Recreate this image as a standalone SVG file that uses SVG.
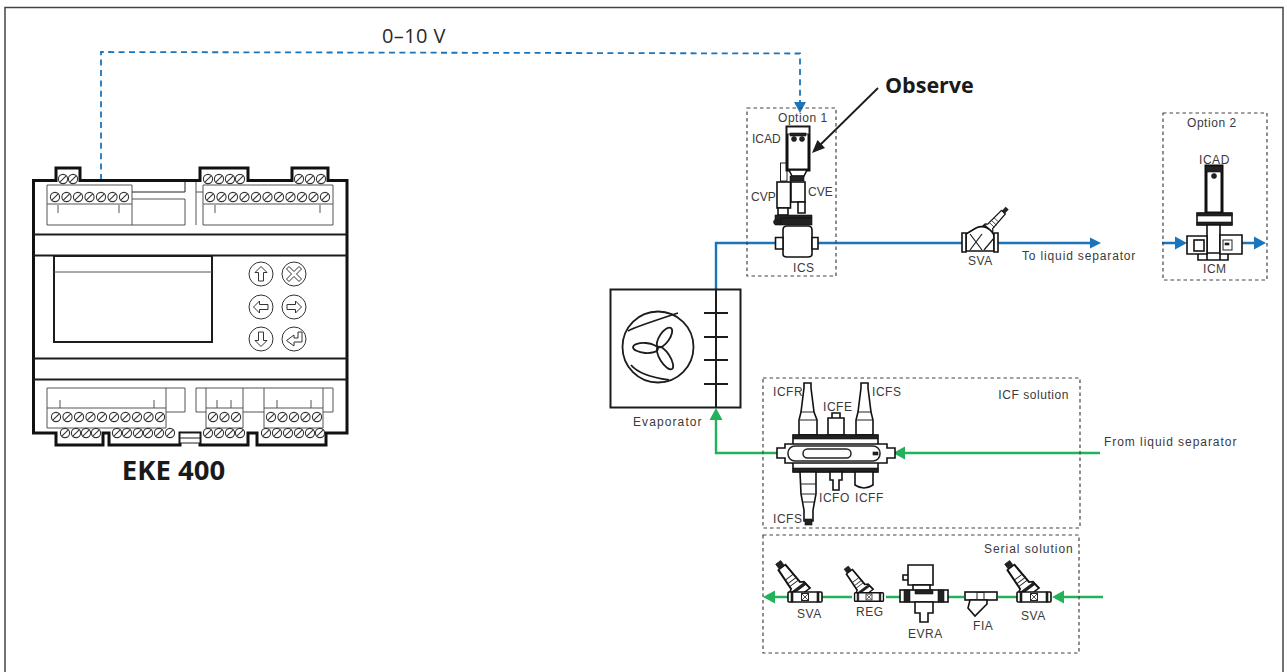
<svg xmlns="http://www.w3.org/2000/svg" width="1287" height="672" viewBox="0 0 1287 672">
<style>
text{font-family:"Liberation Sans",Arial,sans-serif;font-size:12px;fill:#3a3a3a;letter-spacing:.55px}
.big{font-family:"Open Sans","Noto Sans",sans-serif;font-weight:700;fill:#1a1a1a;letter-spacing:0}
.v{font-family:"Open Sans","Noto Sans",sans-serif;font-size:20px;fill:#2a2a2a;letter-spacing:.4px}
.k2{fill:none;stroke:#1c1c1c;stroke-width:1.5}
.g{fill:none;stroke:#555;stroke-width:1}
.w{fill:#fff;stroke:#222;stroke-width:1}
.wk{fill:#fff;stroke:#111;stroke-width:1.6}
.wk3{fill:#fff;stroke:#111;stroke-width:3}
.dk{fill:#222;stroke:#111;stroke-width:.6}
.box{fill:none;stroke:#444;stroke-width:1.2;stroke-dasharray:3.5 3}
.blue{fill:none;stroke:#1b75bc;stroke-width:2.4}
.green{fill:none;stroke:#22b25a;stroke-width:2.4}
.dash{fill:none;stroke:#1b75bc;stroke-width:1.8;stroke-dasharray:6 4.4}
</style>
<defs>
<g id="scr"><circle r="4.600" fill="#fff" stroke="#333" stroke-width="1.100"/><line x1="-3.200" y1="3.200" x2="3.200" y2="-3.200" stroke="#333" stroke-width="1.100"/></g>
<g id="btn"><circle r="12" fill="#fff" stroke="#333" stroke-width="1"/></g>
<path id="arr" d="M0-7.500 6-1.500H2.500V7H-2.500V-1.500H-6Z" fill="#fff" stroke="#333" stroke-width="1"/>
<g id="stem">
<path class="wk" d="M-8 0-7-10-4.500-12-3.500-38H3.500L4.500-12 7-10 8 0Z"/>
<path class="dk" d="M-7.500-9H7.500V-6H-7.500Z"/>
<path class="g" style="stroke:#222" d="M-5-15H5M-5-19H5M-4-24H4"/>
<rect class="dk" x="-2.500" y="-45" width="5" height="7"/>
</g>
<g id="sva">
<use href="#stem" transform="translate(-3 -3) rotate(-37) scale(1.250 .88)"/>
<rect class="wk" x="-17" y="-5" width="34" height="10" rx="1"/>
<path class="dk" d="M-14-5h2v10h-2zM12-5h2v10h-2z"/>
<rect class="w" x="-3.500" y="-3.500" width="7" height="7"/><path class="g" d="M-3-3 3 3M-3 3 3-3"/>
</g>
</defs>

<rect id="frame" x="5" y="7.500" width="1278" height="680" fill="#fff" stroke="#444" stroke-width="1.500"/>

<g id="connectors">
<path class="dash" d="M101 180V52L800 53.500V104"/>
<path d="M794 102H806L800 113Z" fill="#1b75bc"/>
<path class="blue" d="M716 289V243H776M818 243H962M998 243H1092"/>
<path d="M1090 237.500V248.500L1101 243Z" fill="#1b75bc"/>
<path class="blue" d="M1162 243H1178M1241 243H1257"/>
<path d="M1175 236.500V249.500L1187 243ZM1254 236.500V249.500L1266 243Z" fill="#1b75bc"/>
<path class="green" d="M1100 453H902M777 453H716V418"/>
<path d="M709.500 420H722.500L716 408ZM905 446.500V459.500L893 453Z" fill="#22b25a"/>
<path class="green" d="M1103 597H1060M1018 597H998M964 597H948M900 597H886M852 597H822M788 597H772"/>
<path d="M1064 590.500V603.500L1052 597ZM775 590.500V603.500L763 597Z" fill="#22b25a"/>
<path d="M878 88 817 148" fill="none" stroke="#1c1c1c" stroke-width="1.800"/>
<path d="M812 153 817.500 140 825 148Z" fill="#1c1c1c"/>
</g>

<g id="eke400">
<path class="wk3" d="M33.500 180.500H56V168H80V180.500H200V168H248V180.500H292V168H328V180.500H347V433H326V445H257V433H248V445H200V433H180V445H109V433H103V445H56V433H33.500Z"/>
<path class="k2" style="stroke-width:2" d="M33 234.500H347M33 255.500H347M33 358.500H347M33 379.500H347"/>
<rect x="54" y="256" width="158" height="86" fill="none" stroke="#1c1c1c" stroke-width="2"/>
<path class="g" d="M54 272H212"/>
<path class="g" d="M47 185H132V225H47ZM47 204H132M132 199H185V225H132M196 182V225M203 225V185H333V225H203M203 204H333M196 192H203M58 205V213M119 205V213M215 205V213M320 205V213"/>
<path fill="none" stroke="#222" stroke-width="1" d="M132 192H185V182"/>
<path class="g" d="M47 388H166V428H47ZM47 408H166M166 388H185V412H166M196 388H333V412H323M206 388V428H243V388M206 408H243M264 388V428H323V388M264 408H323M60 400V408M154 400V408M217 400V408M231 400V408M277 400V408M311 400V408M196 388V412H206M243 412H264"/>
<g>
<use href="#scr" x="63" y="179"/><use href="#scr" x="73" y="179"/>
<use href="#scr" x="208" y="179"/><use href="#scr" x="219" y="179"/><use href="#scr" x="230" y="179"/><use href="#scr" x="240" y="179"/>
<use href="#scr" x="299" y="179"/><use href="#scr" x="310" y="179"/><use href="#scr" x="321" y="179"/>
<use href="#scr" x="55" y="197"/><use href="#scr" x="66.500" y="197"/><use href="#scr" x="78" y="197"/><use href="#scr" x="89.500" y="197"/><use href="#scr" x="101" y="197"/><use href="#scr" x="112.500" y="197"/><use href="#scr" x="124" y="197"/>
<use href="#scr" x="210" y="197"/><use href="#scr" x="221.500" y="197"/><use href="#scr" x="233" y="197"/><use href="#scr" x="244.500" y="197"/><use href="#scr" x="256" y="197"/><use href="#scr" x="267.500" y="197"/><use href="#scr" x="279" y="197"/><use href="#scr" x="290.500" y="197"/><use href="#scr" x="302" y="197"/><use href="#scr" x="313.500" y="197"/><use href="#scr" x="325" y="197"/>
<use href="#scr" x="65" y="433"/><use href="#scr" x="76" y="433"/><use href="#scr" x="86" y="433"/><use href="#scr" x="96" y="433"/>
<use href="#scr" x="117" y="433"/><use href="#scr" x="127" y="433"/><use href="#scr" x="138" y="433"/><use href="#scr" x="148" y="433"/><use href="#scr" x="159" y="433"/><use href="#scr" x="170" y="433"/>
<use href="#scr" x="208" y="433"/><use href="#scr" x="219" y="433"/><use href="#scr" x="230" y="433"/><use href="#scr" x="240" y="433"/>
<use href="#scr" x="266" y="433"/><use href="#scr" x="277" y="433"/><use href="#scr" x="288" y="433"/><use href="#scr" x="299" y="433"/><use href="#scr" x="310" y="433"/><use href="#scr" x="320" y="433"/>
<use href="#scr" x="56" y="417"/><use href="#scr" x="67.500" y="417"/><use href="#scr" x="79" y="417"/><use href="#scr" x="90.500" y="417"/><use href="#scr" x="102" y="417"/><use href="#scr" x="114" y="417"/><use href="#scr" x="125.500" y="417"/><use href="#scr" x="137" y="417"/><use href="#scr" x="148.500" y="417"/><use href="#scr" x="160" y="417"/>
<use href="#scr" x="213" y="417"/><use href="#scr" x="224.500" y="417"/><use href="#scr" x="236" y="417"/>
<use href="#scr" x="271" y="417"/><use href="#scr" x="282.500" y="417"/><use href="#scr" x="294" y="417"/><use href="#scr" x="305.500" y="417"/><use href="#scr" x="317" y="417"/>
</g>
<path class="w" d="M180 433H200V443H180Z"/><path class="k2" style="stroke-width:1" d="M180 438H200"/>
<use href="#btn" x="261" y="274"/><use href="#btn" x="294" y="274"/><use href="#btn" x="261" y="307"/><use href="#btn" x="294" y="307"/><use href="#btn" x="261" y="339"/><use href="#btn" x="294" y="339"/>
<use href="#arr" transform="translate(261 274)"/>
<use href="#arr" transform="translate(261 307) rotate(-90)"/>
<use href="#arr" transform="translate(294 307) rotate(90)"/>
<use href="#arr" transform="translate(261 339) rotate(180)"/>
<path d="M294 271.500 299 266.500 301.500 269 296.500 274 301.500 279 299 281.500 294 276.500 289 281.500 286.500 279 291.500 274 286.500 269 289 266.500Z" fill="#fff" stroke="#333" stroke-width="1"/>
<path d="M298 332H302V342H294V346L286.500 340.500 294 335V338H298Z" fill="#fff" stroke="#333" stroke-width="1"/>
<text class="big" x="173.500" y="480" text-anchor="middle" style="font-size:27.500px">EKE 400</text>
</g>

<text id="voltage" class="v" x="382" y="43">0–10 V</text>
<text id="observe" class="big" x="885" y="93" style="font-size:21.500px">Observe</text>

<g id="option1">
<rect class="box" x="747" y="108" width="89" height="168"/>
<text x="778" y="122">Option 1</text>
<text x="752" y="143" style="letter-spacing:0">ICAD</text><text x="751" y="201" style="letter-spacing:0">CVP</text><text x="808" y="196" style="letter-spacing:0">CVE</text><text x="793" y="272">ICS</text>
<rect class="w" x="780.500" y="163" width="6.500" height="18"/>
<rect class="wk3" x="787" y="127" width="22" height="43"/>
<rect class="w" x="787" y="127" width="22" height="7" fill="#ddd"/>
<path class="dk" d="M790 133H806V136H790Z"/>
<circle class="dk" cx="794" cy="139" r="2.500"/><circle class="dk" cx="802" cy="139" r="2.500"/>
<path class="wk" d="M789 170H807L804 176H792Z"/>
<rect class="dk" x="790" y="176" width="14" height="5"/>
<rect class="wk" x="777" y="182" width="13.500" height="26"/>
<rect class="wk" x="791" y="182" width="14" height="20"/>
<path class="wk" d="M778 208H788V215H778ZM798 202H805V213H798Z"/>
<path class="dk" d="M775 215H812V218H781V225H775Z"/>
<rect class="dk" x="781" y="218" width="31" height="7"/>
<circle class="dk" cx="776" cy="222" r="2.500"/>
<path class="wk" d="M783 230Q783 226 787 226H808Q812 226 812 230V254Q812 257 808 257H787Q783 257 783 254Z"/>
<path class="wk" d="M783 237.500H775.500V249H783ZM812 237.500H818V249H812Z"/>
</g>

<g id="sva-main">
<use href="#stem" transform="translate(984 233) rotate(43) scale(.75)"/>
<path class="wk" d="M966 234 976 228Q985 224 992 232L994 235V251H966Z"/>
<path class="wk" d="M962 233H966V252H962ZM994 233H998V252H994Z"/>
<path class="k2" style="stroke-width:1.200" d="M970 234 982 250M982 234 970 250M984 250 994 238"/>
<text x="968" y="265">SVA</text>
</g>
<text id="to-sep" x="1022" y="260" style="letter-spacing:.85px">To liquid separator</text>

<g id="option2">
<rect class="box" x="1163" y="113" width="104" height="167"/>
<text x="1187" y="127">Option 2</text><text x="1199" y="164">ICAD</text><text x="1203" y="273">ICM</text>
<rect class="wk3" x="1206" y="166" width="16" height="47"/>
<rect class="dk" x="1206" y="166" width="16" height="6"/>
<circle class="dk" cx="1214" cy="176" r="2.500"/>
<path class="wk" d="M1197 213H1232V225H1197Z"/>
<path class="dk" d="M1197 213H1232V216H1197ZM1197 222H1232V225H1197Z"/>
<path class="wk" d="M1207 225H1220V260H1207ZM1198 253H1228V260H1198Z"/>
<path class="wk" d="M1187 236H1207V254H1187ZM1220 235H1242V254H1220Z"/>
<rect class="wk" x="1194" y="240" width="10" height="11"/>
<rect class="w" x="1223" y="240" width="9" height="10"/><rect class="dk" x="1225" y="243" width="4" height="2"/>
</g>

<g id="evaporator">
<rect x="610.500" y="289.500" width="130" height="118" fill="#fff" stroke="#1c1c1c" stroke-width="2"/>
<path class="k2" style="stroke-width:2" d="M716 289V407M704 313H728M704 337H728M704 360H728M704 384H728"/>
<circle class="k2" cx="658" cy="347" r="35.500" style="stroke-width:1.800"/>
<path class="k2" style="stroke-width:1.800" d="M628 331Q632 328 678 313M631 365Q640 376 669 380"/>
<g class="k2" style="stroke-width:1.800">
<ellipse cx="664.500" cy="337.500" rx="11.500" ry="5" transform="rotate(-55.600 664.500 337.500)"/>
<ellipse cx="645.500" cy="348" rx="12.500" ry="5" transform="rotate(4.600 645.500 348)"/>
<ellipse cx="665" cy="358" rx="13" ry="5" transform="rotate(57.500 665 358)"/>
</g>
<text x="633" y="426" style="letter-spacing:1.100px">Evaporator</text>
</g>

<g id="icf">
<rect class="box" x="763" y="378" width="317" height="150"/>
<text x="1069" y="399" text-anchor="end">ICF solution</text>
<text x="1104" y="446" style="letter-spacing:.95px">From liquid separator</text>
<text x="773" y="396">ICFR</text><text x="823" y="411">ICFE</text><text x="872" y="396">ICFS</text>
<text x="819" y="502">ICFO</text><text x="855" y="502">ICFF</text><text x="773" y="523">ICFS</text>
<path class="wk" d="M804 383H811V388L814 412 817 420V435H799V420L801 412 804 388Z"/>
<path class="wk" d="M861 383H868V388L871 412 873 420V435H856V420L858 412 861 388Z"/>
<path class="g" style="stroke:#222" d="M801 412H815M800 420H817M858 412H871M856 420H873"/>
<path class="wk" d="M828 418H844V435H828ZM832 413H840V418H832Z"/>
<rect class="wk" x="793" y="435" width="85" height="37"/>
<path class="dk" d="M793 435H878V439H793ZM793 468H878V472H793Z"/>
<path class="wk" d="M777 448H785V444H887V448H895V458H887V463H785V458H777Z"/>
<rect class="w" style="stroke-width:1.500" x="788" y="446" width="92" height="15" rx="7"/>
<rect class="w" style="stroke-width:1.500" x="803" y="449" width="48" height="9" rx="4.500"/>
<rect class="dk" x="873" y="452" width="5" height="3"/>
<path class="wk" d="M800 472H816V494L813 510V521H804V510L801 494Z"/>
<rect class="dk" x="805" y="519" width="7" height="6"/>
<path class="g" style="stroke:#222" d="M800 484H816M801 494H815M802 502H814"/>
<path class="wk" d="M830 472H842V480H839V490H833V480H830Z"/>
<path class="wk" d="M855 472H873V485Q864 491 855 485Z"/>
</g>

<g id="serial">
<rect class="box" x="763" y="535" width="316" height="118"/>
<text x="984" y="553" style="letter-spacing:.95px">Serial solution</text>
<text x="797" y="618">SVA</text><text x="856" y="616">REG</text><text x="908" y="638">EVRA</text><text x="973" y="630">FIA</text><text x="1021" y="620">SVA</text>
<use href="#sva" x="805" y="597"/>
<use href="#sva" x="1034" y="597"/>
<use href="#sva" transform="translate(869 597) scale(.85)"/>
<path class="wk" d="M908 565H933V585H908ZM903 575H908V580H903Z"/>
<rect class="wk" x="913" y="585" width="17" height="6"/>
<rect class="wk" x="900" y="590" width="48" height="12"/>
<path class="dk" d="M904 590H910V602H904ZM938 590H944V602H938ZM915 590H933V594H915Z"/>
<path class="wk" d="M915 602H933V613H928V622H920V613H915Z"/>
<rect class="wk" x="965" y="592" width="32" height="8"/>
<path class="wk" d="M970 600H987V604L975 616 968 608Z"/>
<rect class="w" x="977" y="592.500" width="7" height="7"/>
</g>
</svg>
